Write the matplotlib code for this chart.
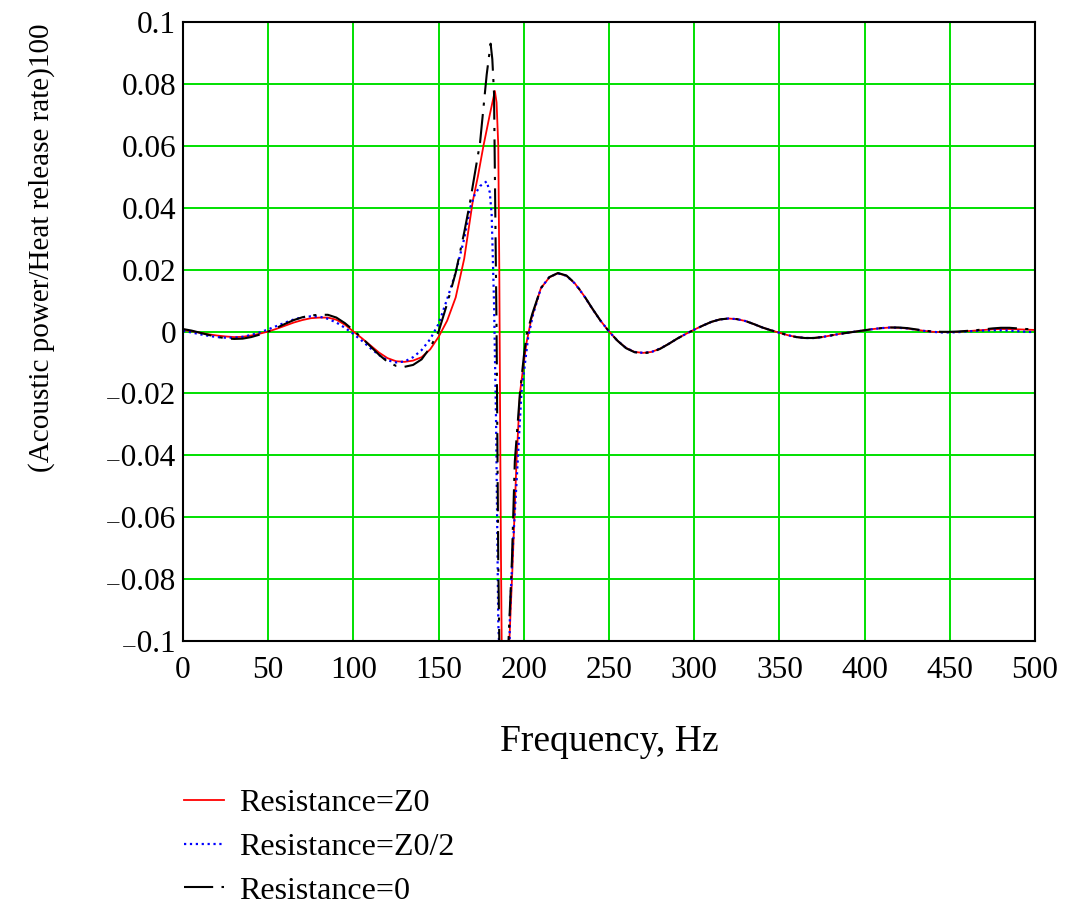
import numpy as np
import matplotlib
matplotlib.use("Agg")
import matplotlib.pyplot as plt
from matplotlib.lines import Line2D

plt.rcParams['font.family'] = ['Liberation Serif', 'DejaVu Serif']

# shared low-frequency grid (Hz)
freq_low = [0, 5, 10, 15, 20, 25, 30, 35, 40, 45, 50, 55, 60, 65, 70, 75, 80, 85,
            90, 95, 100, 105, 110, 115, 120, 125, 130, 135, 140, 145, 150, 155, 160, 165]

# shared tail grid (Hz)
freq_tail = [210, 215, 220, 225, 230, 235, 240, 245, 250, 255, 260, 265, 270, 275,
             280, 285, 290, 295, 300, 305, 310, 315, 320, 325, 330, 335, 340, 345,
             350, 355, 360, 365, 370, 375, 380, 385, 390, 395, 400, 405, 410, 415,
             420, 425, 430, 435, 440, 445, 450, 455, 460, 465, 470, 475, 480, 485,
             490, 495, 500]

# Resistance = Z0 (red)
z0_low = [0.0005, 0.0001, -0.0004, -0.0009, -0.0013, -0.0016, -0.0018, -0.0017,
          -0.0013, -0.0007, 0.0000, 0.0009, 0.0019, 0.0029, 0.0037, 0.0043, 0.0045,
          0.0045, 0.0038, 0.0022, 0.0000, -0.0022, -0.0045, -0.0068, -0.0086,
          -0.0096, -0.0098, -0.0094, -0.0083, -0.0058, -0.0017, 0.0035, 0.0110, 0.0235]
z0_res_f = [170, 173, 176.3, 180, 183, 184, 185, 185.6, 186.2, 186.6, 187, 189,
            191.5, 193.5, 195.7, 197.7, 200, 201.6, 204.5]
z0_res = [0.042, 0.050, 0.060, 0.070, 0.0777, 0.074, 0.060, 0.020, -0.040, -0.074,
          -0.100, -0.300, -0.100, -0.074, -0.042, -0.020, -0.010, -0.0035, 0.0043]
z0_tail = [0.0140, 0.0175, 0.0188, 0.0180, 0.0155, 0.0118, 0.0075, 0.0035, 0.0000,
           -0.0030, -0.0053, -0.0066, -0.0069, -0.0066, -0.0055, -0.0040, -0.0023,
           -0.0008, 0.0006, 0.0019, 0.0031, 0.0039, 0.0042, 0.0040, 0.0034, 0.0024,
           0.0013, 0.0004, -0.0004, -0.0012, -0.0018, -0.0021, -0.0021, -0.0018,
           -0.0013, -0.0008, -0.0004, 0.0000, 0.0004, 0.0008, 0.0011, 0.0013, 0.0012,
           0.0010, 0.0006, 0.0002, -0.0001, -0.0002, -0.0002, -0.0001, 0.0001,
           0.0003, 0.0005, 0.0007, 0.0008, 0.0008, 0.0007, 0.0006, 0.0005]

# Resistance = Z0/2 (blue)
z02_low = [0.0002, -0.0003, -0.0009, -0.0014, -0.0018, -0.0020, -0.0020, -0.0017,
           -0.0011, -0.0003, 0.0007, 0.0018, 0.0029, 0.0039, 0.0046, 0.0049, 0.0048,
           0.0041, 0.0029, 0.0012, -0.0008, -0.0030, -0.0054, -0.0076, -0.0093,
           -0.0100, -0.0097, -0.0083, -0.0060, -0.0025, 0.0025, 0.0105, 0.0190, 0.0300]
z02_res_f = [168.5, 171, 174.3, 178.2, 180, 181.1, 182.5, 183.7, 185, 185.4, 188,
             191.8, 193.5, 195.7, 198.6, 202.5, 205.4]
z02_res = [0.040, 0.044, 0.047, 0.0485, 0.045, 0.038, 0.0094, -0.029, -0.094,
           -0.100, -0.300, -0.092, -0.070, -0.049, -0.0197, -0.002, 0.0055]
z02_tail = [0.0140, 0.0176, 0.0188, 0.0180, 0.0155, 0.0118, 0.0075, 0.0035, 0.0000,
            -0.0030, -0.0053, -0.0066, -0.0069, -0.0066, -0.0055, -0.0040, -0.0023,
            -0.0008, 0.0006, 0.0019, 0.0031, 0.0039, 0.0042, 0.0040, 0.0034, 0.0024,
            0.0013, 0.0004, -0.0004, -0.0012, -0.0018, -0.0021, -0.0021, -0.0018,
            -0.0013, -0.0008, -0.0004, 0.0000, 0.0004, 0.0008, 0.0011, 0.0013, 0.0012,
            0.0010, 0.0006, 0.0002, -0.0001, -0.0003, -0.0003, -0.0002, 0.0000,
            0.0002, 0.0003, 0.0004, 0.0004, 0.0003, 0.0001, -0.0001, -0.0002]

# Resistance = 0 (black)
r0_low = [0.0008, 0.0003, -0.0004, -0.0011, -0.0017, -0.0022, -0.0024, -0.0023,
          -0.0018, -0.0010, 0.0000, 0.0012, 0.0025, 0.0037, 0.0046, 0.0052, 0.0054,
          0.0054, 0.0045, 0.0027, 0.0004, -0.0021, -0.0048, -0.0075, -0.0098,
          -0.0111, -0.0114, -0.0108, -0.0090, -0.0052, 0.0000, 0.0090, 0.0190, 0.0320]
r0_res_f = [168.5, 170, 174.3, 178.2, 180.5, 181.5, 182.5, 184, 185, 185.6, 188,
            191, 193, 194.7, 197.7, 200, 201.6, 205]
r0_res = [0.042, 0.047, 0.061, 0.083, 0.093, 0.088, 0.077, 0.000, -0.075, -0.100,
          -0.300, -0.100, -0.074, -0.042, -0.020, -0.008, -0.001, 0.0058]
r0_tail = [0.0140, 0.0176, 0.0189, 0.0181, 0.0156, 0.0119, 0.0076, 0.0035, 0.0000,
           -0.0030, -0.0054, -0.0067, -0.0070, -0.0067, -0.0056, -0.0040, -0.0023,
           -0.0008, 0.0006, 0.0019, 0.0031, 0.0039, 0.0042, 0.0040, 0.0034, 0.0024,
           0.0013, 0.0004, -0.0004, -0.0012, -0.0018, -0.0021, -0.0021, -0.0018,
           -0.0013, -0.0008, -0.0004, 0.0000, 0.0004, 0.0008, 0.0011, 0.0013, 0.0013,
           0.0011, 0.0007, 0.0003, 0.0000, -0.0001, -0.0001, 0.0000, 0.0002,
           0.0004, 0.0007, 0.0010, 0.0012, 0.0012, 0.0010, 0.0008, 0.0007]

labels = ['Resistance=Z0', 'Resistance=Z0/2', 'Resistance=0']
x_ticks = [0, 50, 100, 150, 200, 250, 300, 350, 400, 450, 500]
y_ticks = [-0.1, -0.08, -0.06, -0.04, -0.02, 0, 0.02, 0.04, 0.06, 0.08, 0.1]
y_ticklabels = ['\u208b0.1', '\u208b0.08', '\u208b0.06', '\u208b0.04', '\u208b0.02',
                '0', '0.02', '0.04', '0.06', '0.08', '0.1']

fig = plt.figure(figsize=(10.73, 9.09), dpi=100)
ax = fig.add_axes([0.1706, 0.2948, 0.794, 0.681])

ax.grid(True, color='#00e000', linewidth=1.4)
ax.set_axisbelow(True)

ax.plot(freq_low + z0_res_f + freq_tail, z0_low + z0_res + z0_tail,
        color='red', linewidth=1.3)
ax.plot(freq_low + z02_res_f + freq_tail, z02_low + z02_res + z02_tail,
        color='blue', linewidth=1.6, linestyle=':')
ax.plot(freq_low + r0_res_f + freq_tail, r0_low + r0_res + r0_tail,
        color='black', linewidth=1.5, dashes=(14, 4, 1.5, 4))

ax.set_xlim(0, 500)
ax.set_ylim(-0.1, 0.1)
ax.set_xticks(x_ticks)
ax.set_xticklabels([str(t) for t in x_ticks])
ax.set_yticks(y_ticks)
ax.set_yticklabels(y_ticklabels)
ax.tick_params(length=0, labelsize=22.5)
ax.tick_params(axis='x', pad=11)
ax.tick_params(axis='y', pad=5)
for s in ax.spines.values():
    s.set_color('black')
    s.set_linewidth(1.5)

fig.text(609 / 1073, 1 - 742 / 909, 'Frequency, Hz',
         ha='center', va='center', fontsize=27)
fig.text(42 / 1073, 1 - 248 / 909, '(Acoustic power/Heat release rate)100',
         rotation=90, ha='center', va='center', fontsize=21)

handles = [Line2D([], [], color='red', linewidth=1.3),
           Line2D([], [], color='blue', linewidth=1.6, linestyle=':'),
           Line2D([], [], color='black', linewidth=1.5, dashes=(14, 4, 1.5, 4))]
fig.legend(handles, labels, loc='upper left', bbox_to_anchor=(0.160, 1 - 776 / 909),
           frameon=False, fontsize=23, handlelength=1.25, handletextpad=0.47,
           labelspacing=0.45, borderaxespad=0)

plt.savefig('out.png', dpi=100)
